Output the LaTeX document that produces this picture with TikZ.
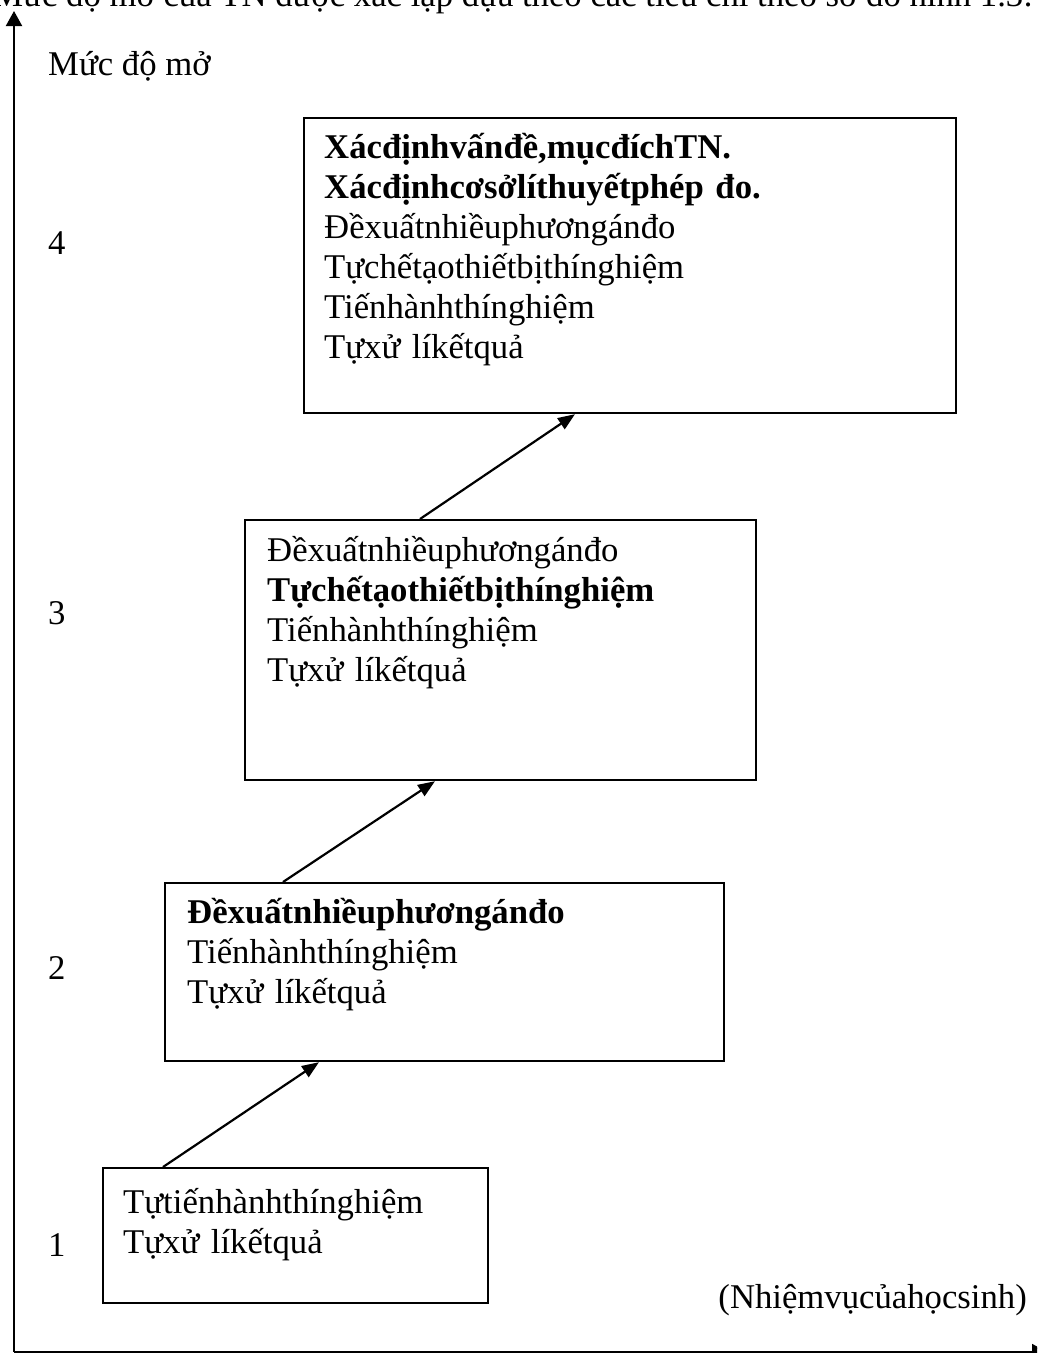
\documentclass[tikz,border=0pt]{standalone}
\usepackage{fontspec}
\setmainfont{Liberation Serif}
\usetikzlibrary{arrows.meta,calc}
\begin{document}
\begin{tikzpicture}[x=1pt,y=-1pt,
  every node/.style={font=\fontsize{34.7}{40}\selectfont},
  box/.style={draw, line width=2.2pt, inner sep=0pt, anchor=north west},
  txt/.style={inner sep=0pt, text width=620pt, align=left, anchor=base west},
  lbl/.style={inner sep=0pt, anchor=base west},
  axis/.style={line width=2pt, -{Triangle[length=15pt,width=16pt]}},
  step arrow/.style={line width=2.2pt, -{Triangle[length=17pt,width=13pt]}}]
\useasboundingbox (0,0) rectangle (1037,1353);
\clip (0,0) rectangle (1037,1353);

% running text line above the figure
\node[inner sep=0pt, anchor=base east] (cap) at (1033,6)
  {Mức độ mở của TN được xác lập dựa theo các tiêu chí theo sơ đồ hình 1.3:};

% axes
\coordinate (o) at (14,1352);
\coordinate (ytip) at (14,11);
\coordinate (xtip) at (1047,1352);
\draw[axis] (o) -- (ytip);
\draw[axis] (o) -- (xtip);

\node[lbl] (ylab) at (48,75) {Mức độ mở};
\node[inner sep=0pt, anchor=base east] (xlab) at (1027,1308) {(Nhiệmvụcủahọcsinh)};

% level numbers
\node[lbl] (n4) at (48,254) {4};
\node[lbl] (n3) at (48,624) {3};
\node[lbl] (n2) at (48,979) {2};
\node[lbl] (n1) at (48,1256) {1};

% level boxes
\node[box, minimum width=652pt, minimum height=295pt] (b4) at (303,117) {};
\node[box, minimum width=511pt, minimum height=260pt] (b3) at (244,519) {};
\node[box, minimum width=559pt, minimum height=178pt] (b2) at (164,882) {};
\node[box, minimum width=385pt, minimum height=135pt] (b1) at (102,1167) {};

% box contents
\node[txt] (t4) at (324,158) {\textbf{Xácđịnhvấnđề,mụcđíchTN.}\\
  \textbf{Xácđịnhcơsởlíthuyếtphép đo.}\\
  Đềxuấtnhiềuphươngánđo\\
  Tựchếtạothiếtbịthínghiệm\\
  Tiếnhànhthínghiệm\\
  Tựxử líkếtquả};
\node[txt] (t3) at (267,561) {Đềxuấtnhiềuphươngánđo\\
  \textbf{Tựchếtạothiếtbịthínghiệm}\\
  Tiếnhànhthínghiệm\\
  Tựxử líkếtquả};
\node[txt] (t2) at (187,923) {\textbf{Đềxuấtnhiềuphươngánđo}\\
  Tiếnhànhthínghiệm\\
  Tựxử líkếtquả};
\node[txt] (t1) at (123,1213) {Tựtiếnhànhthínghiệm\\
  Tựxử líkếtquả};

% steps between levels
\draw[step arrow] ($(b1.north west)+(61,0)$) -- ($(b2.south west)+(155,0)$);
\draw[step arrow] ($(b2.north west)+(119,0)$) -- ($(b3.south west)+(191,0)$);
\draw[step arrow] ($(b3.north west)+(176,0)$) -- ($(b4.south west)+(272,0)$);
\end{tikzpicture}
\end{document}
